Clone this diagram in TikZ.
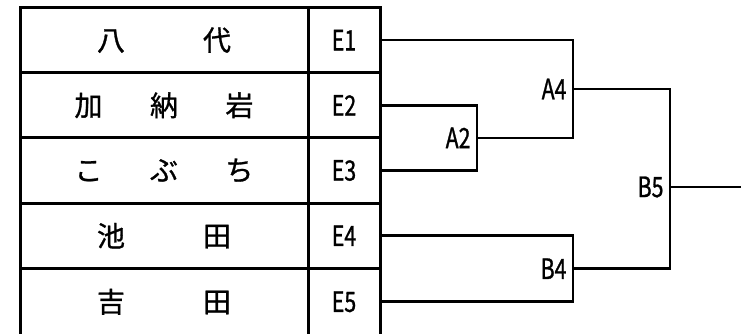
\documentclass[tikz,border=0pt]{standalone}
\usepackage{fontspec}
\setmainfont{Noto Sans CJK JP}[FakeBold=1]
\newfontfamily\entryfont{Noto Sans CJK JP}[FakeStretch=0.76,FakeBold=1]
\usetikzlibrary{positioning}

\tikzset{
    namecell/.style={draw, line width=3pt, outer sep=0pt,
        minimum width=288pt, minimum height=65.2pt},
    entrycell/.style={draw, line width=3pt, outer sep=0pt,
        minimum width=72pt, minimum height=65.2pt,
        font=\fontsize{28}{32}\selectfont\entryfont},
    bracket/.style={line width=2.7pt},
    every label/.style={font=\fontsize{28}{32}\selectfont\entryfont},
    label distance=3pt
}

\begin{document}
\begin{tikzpicture}[x=1pt,y=-1pt,font=\fontsize{28}{32}\selectfont]
\useasboundingbox (0,0) rectangle (741,333);

% Name column
\node[namecell, anchor=north west] (n1) at (20,7.5) {八\hspace{78pt}代};
\node[namecell, below=0pt of n1] (n2) {加\hspace{47.5pt}納\hspace{47.5pt}岩};
\node[namecell, below=0pt of n2] (n3) {こ\hspace{47.5pt}ぶ\hspace{47.5pt}ち};
\node[namecell, below=0pt of n3] (n4) {池\hspace{78pt}田};
\node[namecell, below=0pt of n4, minimum height=67pt] (n5) {吉\hspace{78pt}田};

% Entry numbers
\node[entrycell, right=0pt of n1] (e1) {E1};
\node[entrycell, right=0pt of n2] (e2) {E2};
\node[entrycell, right=0pt of n3] (e3) {E3};
\node[entrycell, right=0pt of n4] (e4) {E4};
\node[entrycell, right=0pt of n5, minimum height=67pt] (e5) {E5};

% Match points
\coordinate[label=left:A2] (a2) at (477,137.9);
\coordinate[label=left:A4] (a4) at (573,89);
\coordinate[label=left:B4] (b4) at (573,268.7);
\coordinate[label=left:B5] (b5) at (670,187);
\coordinate (champ) at (741,187);

% Brackets
\draw[bracket] (e2.east) -| (a2) |- (e3.east);
\draw[bracket] (e1.east) -| (a4) |- (a2);
\draw[bracket] (e4.east) -| (b4) |- (e5.east);
\draw[bracket] (a4) -| (b5) |- (b4);
\draw[bracket] (b5) -- (champ);

\end{tikzpicture}
\end{document}
